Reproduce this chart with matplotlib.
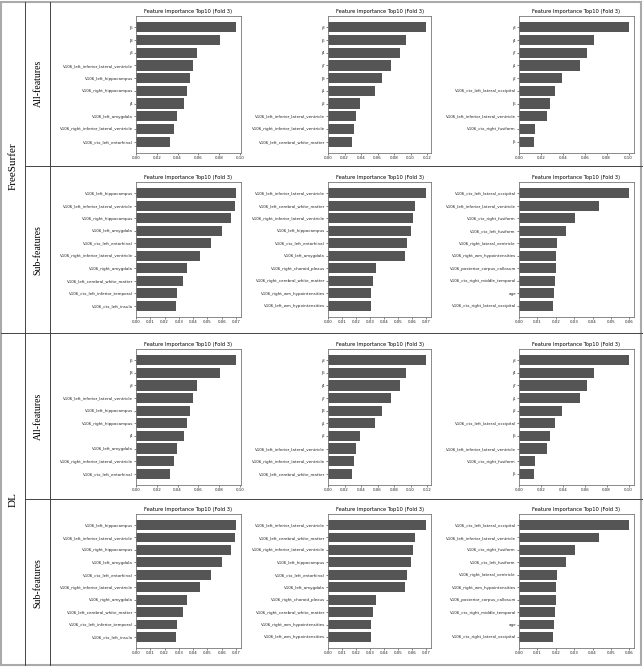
import matplotlib
matplotlib.use("Agg")
import matplotlib.pyplot as plt
from matplotlib.lines import Line2D
from matplotlib.patches import Rectangle

# top10 feature importances, fold 3 (same panels for FreeSurfer and DL)
allFeatNames1 = ["j6", "j8", "j3", "V106_left_inferior_lateral_ventricle", "V106_left_hippocampus",
                 "V106_right_hippocampus", "j4", "V106_left_amygdala",
                 "V106_right_inferior_lateral_ventricle", "V106_ctx_left_entorhinal"]
allFeatVals1 = [0.0961, 0.0812, 0.0584, 0.0552, 0.0523, 0.0494, 0.0461, 0.0390, 0.0364, 0.0331]

allFeatNames2 = ["j3", "j6", "j4", "j7", "j8", "j1", "j2", "V106_left_inferior_lateral_ventricle",
                 "V106_right_inferior_lateral_ventricle", "V106_left_cerebral_white_matter"]
allFeatVals2 = [0.1188, 0.0944, 0.0866, 0.0769, 0.0659, 0.0574, 0.0382, 0.0342, 0.0309, 0.0285]

allFeatNames3 = ["j3", "j4", "j7", "j1", "j2", "V106_ctx_left_lateral_occipital", "j6",
                 "V106_left_inferior_lateral_ventricle", "V106_ctx_right_fusiform", "j5"]
allFeatVals3 = [0.1000, 0.0683, 0.0625, 0.0558, 0.0393, 0.0329, 0.0287, 0.0253, 0.0143, 0.0137]

subFeatNames1 = ["V106_left_hippocampus", "V106_left_inferior_lateral_ventricle", "V106_right_hippocampus",
                 "V106_left_amygdala", "V106_ctx_left_entorhinal", "V106_right_inferior_lateral_ventricle",
                 "V106_right_amygdala", "V106_left_cerebral_white_matter",
                 "V106_ctx_left_inferior_temporal", "V106_ctx_left_insula"]
subFeatVals1 = [0.0700, 0.0691, 0.0663, 0.0602, 0.0524, 0.0445, 0.0358, 0.0330, 0.0288, 0.0283]

subFeatNames2 = ["V106_left_inferior_lateral_ventricle", "V106_left_cerebral_white_matter",
                 "V106_right_inferior_lateral_ventricle", "V106_left_hippocampus", "V106_ctx_left_entorhinal",
                 "V106_left_amygdala", "V106_right_choroid_plexus", "V106_right_cerebral_white_matter",
                 "V106_right_wm_hypointensities", "V106_left_wm_hypointensities"]
subFeatVals2 = [0.0700, 0.0621, 0.0604, 0.0595, 0.0566, 0.0547, 0.0343, 0.0321, 0.0309, 0.0307]

subFeatNames3 = ["V106_ctx_left_lateral_occipital", "V106_left_inferior_lateral_ventricle",
                 "V106_ctx_right_fusiform", "V106_ctx_left_fusiform", "V106_right_lateral_ventricle",
                 "V106_right_wm_hypointensities", "V106_posterior_corpus_callosum",
                 "V106_ctx_right_middle_temporal", "age", "V106_ctx_right_lateral_occipital"]
subFeatVals3 = [0.0596, 0.0433, 0.0307, 0.0255, 0.0205, 0.0204, 0.0202, 0.0195, 0.0193, 0.0184]

allTicks = [[0.00, 0.02, 0.04, 0.06, 0.08, 0.10],
            [0.00, 0.02, 0.04, 0.06, 0.08, 0.10, 0.12],
            [0.00, 0.02, 0.04, 0.06, 0.08, 0.10]]
subTicks = [[0.00, 0.01, 0.02, 0.03, 0.04, 0.05, 0.06, 0.07],
            [0.00, 0.01, 0.02, 0.03, 0.04, 0.05, 0.06, 0.07],
            [0.00, 0.01, 0.02, 0.03, 0.04, 0.05, 0.06]]

groupLabels = ["FreeSurfer", "DL"]
rowLabels = ["All-features", "Sub-features"]

W, H = 643, 667
fig = plt.figure(figsize=(W / 100, H / 100), dpi=100)
fig.patch.set_facecolor("white")

# pixel boxes of the panels (left, right) and (top, bottom)
colX = [(136, 241), (328, 431), (519, 634)]
rowY = [(16, 153), (182, 317), (349, 485), (514, 648)]


def px2fig(x0, x1, y0, y1):
    return [x0 / W, 1 - y1 / H, (x1 - x0) / W, (y1 - y0) / H]


def drawPanel(ax, names, vals, ticks):
    pos = list(range(len(names)))[::-1]
    ax.barh(pos, vals, height=0.8, color="#555555")
    ax.set_yticks(pos)
    ax.set_yticklabels(names, fontsize=2.9)
    ax.set_xticks(ticks)
    ax.set_xticklabels(["%.2f" % t for t in ticks], fontsize=2.9)
    ax.set_title("Feature Importance Top10 (Fold 3)", fontsize=3.7, pad=2)
    ax.tick_params(length=1.2, width=0.4, pad=1, colors="#222222")
    for s in ax.spines.values():
        s.set_color("#777777")
        s.set_linewidth(0.6)


panelData = [
    (allFeatNames1, allFeatVals1), (allFeatNames2, allFeatVals2), (allFeatNames3, allFeatVals3),
    (subFeatNames1, subFeatVals1), (subFeatNames2, subFeatVals2), (subFeatNames3, subFeatVals3),
]

for r in range(4):
    isSub = r % 2
    for c in range(3):
        names, vals = panelData[isSub * 3 + c]
        ticks = subTicks[c] if isSub else allTicks[c]
        ax = fig.add_axes(px2fig(colX[c][0], colX[c][1], rowY[r][0], rowY[r][1]))
        drawPanel(ax, names, vals, ticks)

# table lines
def hline(x0, x1, y, **kw):
    fig.add_artist(Line2D([x0 / W, x1 / W], [1 - y / H, 1 - y / H], transform=fig.transFigure, **kw))


def vline(x, y0, y1, **kw):
    fig.add_artist(Line2D([x / W, x / W], [1 - y0 / H, 1 - y1 / H], transform=fig.transFigure, **kw))


lineKw = dict(color="#444444", linewidth=0.7)
vline(25, 2, 665, **lineKw)
vline(50, 2, 665, **lineKw)
hline(1, 642, 333, **lineKw)
hline(25, 642, 166, **lineKw)
hline(25, 642, 499, **lineKw)

fig.add_artist(Rectangle((1 / W, 2 / H), 640 / W, 663 / H, transform=fig.transFigure,
                         fill=False, edgecolor="#aaaaaa", linewidth=1.5))

serif = "Liberation Serif"
for g, yc in zip(groupLabels, [166, 500]):
    fig.text(13 / W, 1 - yc / H, g, rotation=90, ha="center", va="center",
             fontsize=8, family=serif)
for k, yc in enumerate([83, 250, 416, 583]):
    fig.text(38 / W, 1 - yc / H, rowLabels[k % 2], rotation=90, ha="center", va="center",
             fontsize=7, family=serif)

fig.savefig("out.png", dpi=100)
